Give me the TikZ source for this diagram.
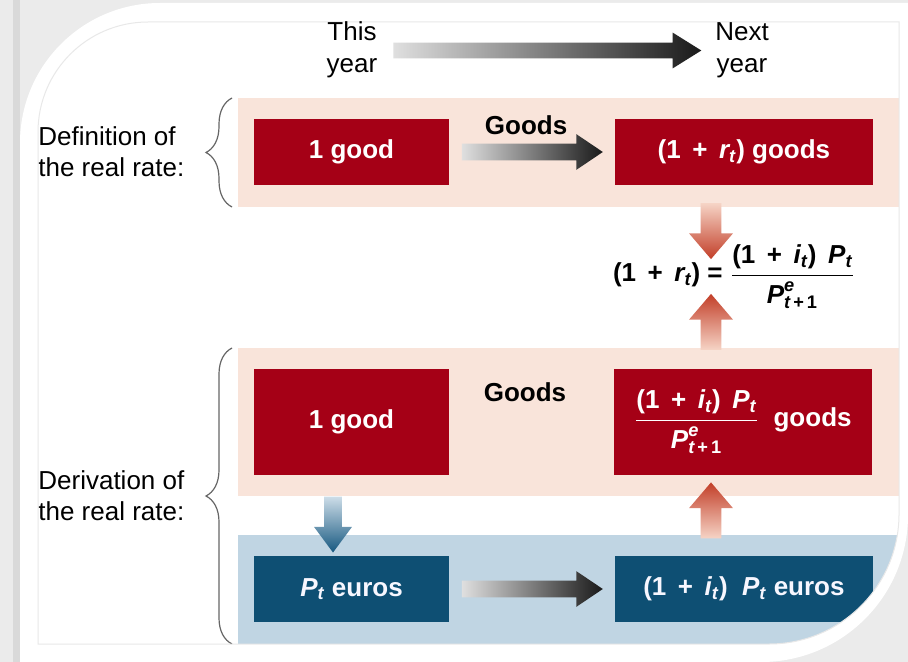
\documentclass[tikz,border=0pt]{standalone}
\usepackage{amsmath}
\usepackage{fontspec}
\setmainfont{Liberation Sans}
\usetikzlibrary{arrows.meta,positioning,shapes.arrows,decorations.pathreplacing}

\definecolor{boxred}{RGB}{165,0,22}
\definecolor{boxblue}{RGB}{14,79,115}
\definecolor{bandpeach}{RGB}{249,228,218}
\definecolor{bandblue}{RGB}{192,213,227}
\definecolor{arrred}{RGB}{194,62,40}
\definecolor{arrredlight}{RGB}{246,212,198}
\definecolor{arrblue}{RGB}{22,88,128}
\definecolor{arrbluelight}{RGB}{205,221,232}

\newcommand{\itsub}[2]{\text{\itshape #1}_{\text{\itshape #2}}}
\newcommand{\pexp}{\text{\itshape P}^{\text{\itshape e}}_{\text{\itshape t}\text{\,+\,1}}}
\newcommand{\ratio}{\genfrac{}{}{0.9pt}{0}
  {\text{(1\,\ +\ \,}\itsub{i}{t}\text{)\ \,}\itsub{P}{t}}{\pexp}}

\begin{document}
\begin{tikzpicture}[
      x=0.5pt, y=-0.5pt, >=Stealth,
      box/.style={minimum height=33pt, inner sep=0pt, text=white,
                  font=\fontsize{13}{15}\selectfont\bfseries},
      redbox/.style={box, fill=boxred},
      bluebox/.style={box, fill=boxblue, text=blue!3},
      narrow/.style={minimum width=97.5pt},
      wide/.style={minimum width=129pt},
      grayarrow/.style={single arrow, draw=none, inner xsep=0pt, inner ysep=4pt,
                        single arrow head extend=4.75pt, single arrow tip angle=68,
                        left color=gray!25, right color=black!90, minimum height=70.5pt},
      vertarrow/.style={single arrow, draw=none, inner ysep=0pt, minimum height=28pt},
      redup/.style={vertarrow, shape border rotate=90, inner xsep=5pt,
                    single arrow head extend=5.75pt, single arrow tip angle=81,
                    top color=arrred, bottom color=arrredlight},
      reddown/.style={redup, shape border rotate=270,
                      top color=arrredlight, bottom color=arrred},
      bluedown/.style={vertarrow, shape border rotate=270, inner xsep=4.25pt,
                       single arrow head extend=5pt, single arrow tip angle=73,
                       top color=arrbluelight, bottom color=arrblue},
      sidelabel/.style={align=left, anchor=west, inner sep=0pt,
                        font=\fontsize{13}{15.5}\selectfont},
      yearlabel/.style={align=center, inner sep=0pt,
                        font=\fontsize{13}{16}\selectfont},
      arrowlabel/.style={inner sep=0pt, font=\fontsize{13}{15}\selectfont\bfseries},
      bracket/.style={decorate, decoration={brace, amplitude=13pt, aspect=0.5},
                      draw=black!60, line width=0.6pt},
    ]
    \useasboundingbox (0,0) rectangle (908,662);

    % frame round the slide
    \fill[gray!16] (0,0) rectangle (908,662);
    \fill[gray!30] (13,0) rectangle (20,662);
    \fill[white] (20,662) -- (20,143) arc[start angle=180, end angle=270, radius=140]
      -- (908,3) -- (908,515) arc[start angle=0, end angle=90, radius=147] -- cycle;

    \begin{scope}
      \clip (38,644) -- (38,132) arc[start angle=180, end angle=270, radius=110]
        -- (899,22) -- (899,514) arc[start angle=0, end angle=90, radius=130] -- cycle;

      % bands
      \fill[bandpeach] (238,98) rectangle (899,207);
      \fill[bandpeach] (238,348) rectangle (899,496);
      \fill[bandblue] (238,535) rectangle (899,644);

      % definition
      \node[redbox, narrow] (g1) at (351.5,152) {1 good};
      \node[grayarrow, right=6pt of g1] (garr) {};
      \node[redbox, wide, right=5.5pt of garr] (g2)
        {$\text{(1\,\ +\ \,}\itsub{r}{t}\text{) goods}$};
      \node[arrowlabel, above=4pt of garr] (glab) {Goods};

      % equation
      \node[reddown] (down) at (711,225) {};
      \node[arrowlabel] (eq) at (734,277)
        {$\text{(1\,\ +\ \,}\itsub{r}{t}\text{) = }\ratio$};
      \node[redup] (up1) at (711,328) {};

      % derivation
      \node[redbox, narrow, minimum height=53pt] (d1) at (351.5,422) {1 good};
      \node[redbox, wide, minimum height=53pt, right=82pt of d1] (d2)
        {$\ratio\text{\ \ goods}$};
      \node[arrowlabel] (dlab) at (525,392) {Goods};
      \node[bluedown] (conv) at (333,518.5) {};
      \node[redup] (up2) at (711,516.5) {};
      \node[bluebox, narrow] (e1) at (351.5,589) {$\itsub{P}{t}\text{ euros}$};
      \node[grayarrow, right=6pt of e1] (earr) {};
      \node[bluebox, wide, right=5.5pt of earr] (e2)
        {$\text{(1\,\ +\ \,}\itsub{i}{t}\text{)\ \ }\itsub{P}{t}\text{ euros}$};

      % braces and side labels
      \draw[bracket] (232,207) -- (232,98);
      \draw[bracket] (232,644) -- (232,348);
      \node[sidelabel] (deflab) at (38,152) {Definition of\\the real rate:};
      \node[sidelabel] (derlab) at (38,496) {Derivation of\\the real rate:};
    \end{scope}
    \draw[gray!18, line width=0.5pt] (38,644) -- (38,132)
      arc[start angle=180, end angle=270, radius=110]
      -- (899,22) -- (899,514) arc[start angle=0, end angle=90, radius=130] -- cycle;

    % time axis
    \node[yearlabel] (this) at (352,50) {This\\year};
    \node[yearlabel] (next) at (742,50) {Next\\year};
    \node[grayarrow, minimum height=154pt, inner ysep=3.75pt,
          single arrow head extend=5pt, single arrow tip angle=64] (time) at (541,50.5) {};
  \end{tikzpicture}
\end{document}
